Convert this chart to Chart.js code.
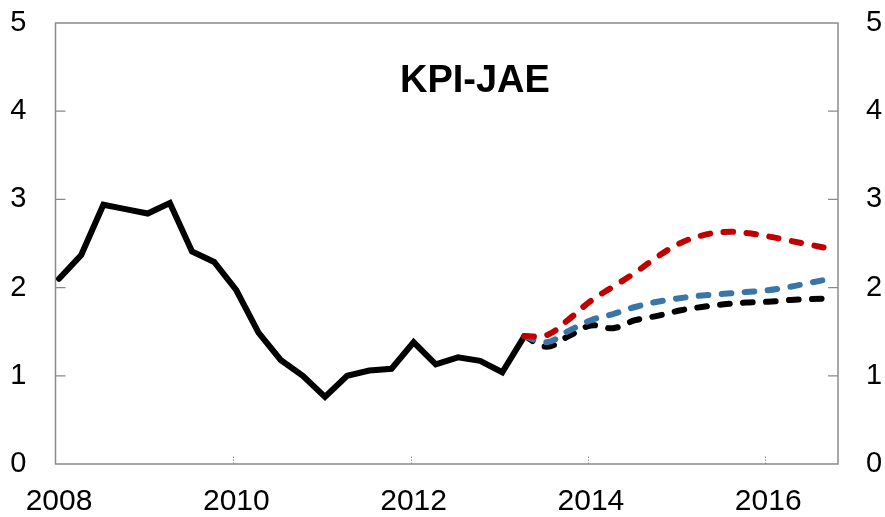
<!DOCTYPE html>
<html>
<head>
<meta charset="utf-8">
<script src="https://cdn.jsdelivr.net/npm/chart.js@4.4.1/dist/chart.umd.min.js"></script>
<style>
  html, body { margin: 0; padding: 0; background: #ffffff; }
  #wrap { width: 885px; height: 517px; }
</style>
</head>
<body>
<div id="wrap"><canvas id="c" width="885" height="517"></canvas></div>
<script>
// ---- Data (quarterly, 2008Q1 .. 2016Q4) ----
const chartTitle = 'KPI-JAE';
const yearLabels = [2008, 2010, 2012, 2014, 2016];
const yTickValues = [0, 1, 2, 3, 4, 5];

// Historical KPI-JAE, 2008Q1 .. 2013Q2
const historical = [2.10, 2.37, 2.94, 2.89, 2.84, 2.96, 2.41, 2.29, 1.97, 1.49, 1.18, 1.00,
                    0.76, 1.00, 1.06, 1.08, 1.38, 1.13, 1.21, 1.17, 1.04, 1.45];
// Projections, 2013Q2 .. 2016Q4
const forecastRed   = [1.45, 1.46, 1.64, 1.85, 2.01, 2.17, 2.35, 2.50, 2.59, 2.63, 2.62, 2.58, 2.53, 2.48, 2.43];
const forecastBlue  = [1.45, 1.38, 1.51, 1.63, 1.70, 1.78, 1.84, 1.88, 1.91, 1.93, 1.95, 1.97, 2.01, 2.06, 2.11];
const forecastBlack = [1.45, 1.33, 1.45, 1.57, 1.54, 1.63, 1.68, 1.74, 1.78, 1.81, 1.83, 1.84, 1.86, 1.87, 1.88];
const forecastStartIndex = 21; // 2013Q2

// ---- helpers ----
function toPoints(arr, start) { return arr.map((v, i) => ({ x: start + i, y: v })); }
function yearToIndex(y) { return (y - 2008) * 4; }

const FONT = "'Liberation Sans', Arial, sans-serif";
const GRAY = '#8a8a8a';

const framePlugin = {
  id: 'frame',
  beforeDatasetsDraw(chart) {
    const { ctx, chartArea: a, scales } = chart;
    ctx.save();
    ctx.strokeStyle = GRAY;
    ctx.lineWidth = 1.5;
    ctx.strokeRect(a.left, a.top, a.right - a.left, a.bottom - a.top);
    ctx.lineWidth = 1.2;
    yTickValues.forEach(v => {
      if (v === 0 || v === 5) return;
      const y = scales.y.getPixelForValue(v);
      ctx.beginPath();
      ctx.moveTo(a.left, y); ctx.lineTo(a.left + 10, y);
      ctx.moveTo(a.right, y); ctx.lineTo(a.right - 10, y);
      ctx.stroke();
    });
    ctx.setLineDash([1.5, 1.5]);
    ctx.lineWidth = 1;
    yearLabels.forEach((yr, k) => {
      if (k === 0) return;
      const x = Math.round(scales.x.getPixelForValue(yearToIndex(yr)) - 3) + 0.5;
      ctx.beginPath();
      ctx.moveTo(x, a.bottom); ctx.lineTo(x, a.bottom - 9);
      ctx.stroke();
    });
    ctx.restore();
  },
  afterDatasetsDraw(chart) {
    const { ctx, chartArea: a } = chart;
    ctx.save();
    ctx.fillStyle = '#000';
    ctx.font = "bold 38px " + FONT;
    ctx.textAlign = 'center';
    ctx.textBaseline = 'alphabetic';
    ctx.fillText(chartTitle, a.left + 0.536 * (a.right - a.left), 91.5);
    ctx.restore();
  }
};

const dashedCommon = {
  borderWidth: 6,
  borderDash: [9.5, 13.5],
  borderCapStyle: 'round',
  borderJoinStyle: 'round',
  pointRadius: 0,
  tension: 0.4,
  fill: false,
  yAxisID: 'y'
};

function fitY(width) {
  return function (scale) {
    scale.width = width;
    scale.paddingTop = 0;
    scale.paddingBottom = 0;
  };
}

new Chart(document.getElementById('c'), {
  type: 'line',
  data: {
    datasets: [
      Object.assign({ label: 'Red', data: toPoints(forecastRed, forecastStartIndex), borderColor: '#C00000' }, dashedCommon),
      Object.assign({ label: 'Blue', data: toPoints(forecastBlue, forecastStartIndex), borderColor: '#3A75A8' }, dashedCommon),
      Object.assign({ label: 'Black', data: toPoints(forecastBlack, forecastStartIndex), borderColor: '#000000' }, dashedCommon),
      {
        label: chartTitle,
        data: toPoints(historical, 0),
        borderColor: '#000000',
        borderWidth: 6,
        borderCapStyle: 'round',
        borderJoinStyle: 'miter',
        pointRadius: 0,
        tension: 0,
        fill: false,
        yAxisID: 'y'
      }
    ]
  },
  options: {
    responsive: false,
    devicePixelRatio: 1,
    animation: false,
    layout: { padding: { top: 23, left: 0, right: 0, bottom: 0 } },
    plugins: { legend: { display: false }, tooltip: { enabled: false }, title: { display: false } },
    scales: {
      x: {
        type: 'linear',
        min: -0.16,
        max: 35.15,
        grid: { display: false, drawTicks: false },
        border: { display: false },
        afterBuildTicks(scale) { scale.ticks = yearLabels.map(yr => ({ value: yearToIndex(yr) })); },
        afterFit(scale) { scale.height = 53; scale.paddingLeft = 0; scale.paddingRight = 0; },
        ticks: {
          autoSkip: false,
          maxRotation: 0,
          padding: 20,
          color: '#000',
          font: { family: FONT, size: 30 },
          callback: (v) => String(2008 + v / 4)
        }
      },
      y: {
        position: 'left',
        min: 0, max: 5,
        grid: { display: false, drawTicks: false },
        border: { display: false },
        afterFit: fitY(55.5),
        ticks: { stepSize: 1, padding: 29, color: '#000', font: { family: FONT, size: 29 } }
      },
      y2: {
        position: 'right',
        min: 0, max: 5,
        grid: { display: false, drawTicks: false },
        border: { display: false },
        afterFit: fitY(47),
        ticks: { stepSize: 1, padding: 28, color: '#000', font: { family: FONT, size: 29 } }
      }
    }
  },
  plugins: [framePlugin]
});
</script>
</body>
</html>
